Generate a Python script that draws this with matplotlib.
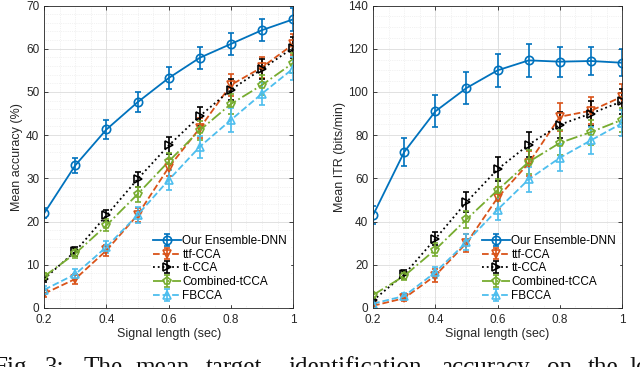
import numpy as np
import matplotlib.pyplot as plt
from matplotlib.ticker import MultipleLocator

plt.rcParams['font.family'] = ['Liberation Sans', 'DejaVu Sans']

t = [0.2, 0.3, 0.4, 0.5, 0.6, 0.7, 0.8, 0.9, 1.0]
names = ['Our Ensemble-DNN', 'ttf-CCA', 'tt-CCA', 'Combined-tCCA', 'FBCCA']
xtick_labels = ['0.2', '0.4', '0.6', '0.8', '1']

# mean accuracy (%)
acc_dnn = [21.9, 33.0, 41.3, 47.6, 53.2, 57.9, 61.1, 64.3, 66.8]
acc_ttf = [3.3, 6.7, 13.3, 21.5, 32.5, 41.6, 51.6, 55.7, 61.0]
acc_tt = [6.7, 13.1, 21.4, 29.8, 37.6, 44.4, 50.5, 55.3, 60.2]
acc_comb = [7.3, 12.6, 19.1, 26.3, 33.9, 41.1, 47.2, 51.6, 56.7]
acc_fb = [4.2, 7.8, 14.1, 21.5, 29.6, 37.3, 43.5, 49.6, 55.4]
acc_err_dnn = [1.2, 1.7, 2.1, 2.3, 2.6, 2.6, 2.6, 2.5, 2.6]
acc_err_ttf = [0.8, 1.1, 1.2, 1.6, 2.0, 2.3, 2.5, 2.4, 2.4]
acc_err_tt = [0.8, 1.1, 1.3, 1.7, 2.0, 2.2, 2.4, 2.4, 2.4]
acc_err_comb = [0.8, 1.1, 1.4, 1.7, 2.0, 2.2, 2.4, 2.4, 2.4]
acc_err_fb = [0.9, 1.2, 1.4, 1.8, 2.3, 2.6, 2.8, 2.7, 2.7]

# mean ITR (bits/min)
itr_dnn = [43.0, 72.2, 91.0, 101.8, 110.0, 114.6, 114.0, 114.3, 113.5]
itr_ttf = [1.0, 4.5, 15.0, 30.0, 51.0, 67.0, 88.5, 91.3, 97.8]
itr_tt = [3.5, 15.5, 32.0, 49.0, 64.2, 75.6, 84.8, 90.0, 95.6]
itr_comb = [6.0, 14.8, 27.0, 41.0, 54.5, 67.6, 76.4, 81.4, 87.1]
itr_fb = [2.0, 5.5, 16.5, 30.5, 45.5, 59.5, 69.5, 77.6, 85.5]
itr_err_dnn = [4.0, 6.3, 7.4, 7.5, 7.6, 7.5, 7.0, 6.7, 6.3]
itr_err_ttf = [0.8, 1.5, 2.8, 4.0, 5.0, 5.8, 6.5, 6.3, 6.0]
itr_err_tt = [1.0, 2.0, 3.0, 4.5, 5.5, 5.8, 6.0, 5.8, 5.6]
itr_err_comb = [1.0, 2.0, 3.0, 4.0, 5.0, 5.5, 5.8, 5.8, 5.6]
itr_err_fb = [1.0, 1.5, 2.5, 3.8, 5.0, 5.8, 6.3, 6.3, 6.0]

colors = ['#0072BD', '#D95319', '#000000', '#77AC30', '#4DBEEE']
styles = ['-', '--', ':', '-.', '--']
markers = ['o', 'v', '>', 'p', '^']

fig = plt.figure(figsize=(6.4, 3.67), dpi=100)
ax1 = fig.add_axes([0.069, 0.161, 0.389, 0.824])
ax2 = fig.add_axes([0.583, 0.161, 0.389, 0.824])

panels = [
    (ax1, [acc_dnn, acc_ttf, acc_tt, acc_comb, acc_fb],
     [acc_err_dnn, acc_err_ttf, acc_err_tt, acc_err_comb, acc_err_fb],
     70, 10, 2, 'Mean accuracy (%)'),
    (ax2, [itr_dnn, itr_ttf, itr_tt, itr_comb, itr_fb],
     [itr_err_dnn, itr_err_ttf, itr_err_tt, itr_err_comb, itr_err_fb],
     140, 20, 5, 'Mean ITR (bits/min)'),
]

for ax, ys, es, ymax, major, minor, ylab in panels:
    for i in range(len(names)):
        ax.errorbar(t, ys[i], yerr=es[i], color=colors[i], ls=styles[i], lw=1.3,
                    marker=markers[i], ms=6, mfc='none', mew=1.2,
                    capsize=2.5, elinewidth=1.2, label=names[i])
    ax.set_xlim(0.2, 1)
    ax.set_ylim(0, ymax)
    ax.set_xticks([0.2, 0.4, 0.6, 0.8, 1.0])
    ax.set_xticklabels(xtick_labels)
    ax.xaxis.set_minor_locator(MultipleLocator(0.05))
    ax.yaxis.set_major_locator(MultipleLocator(major))
    ax.yaxis.set_minor_locator(MultipleLocator(minor))
    ax.grid(True, which='major', color='#dcdcdc', lw=0.6)
    ax.grid(True, which='minor', color='#e6e6e6', lw=0.5, ls=':')
    ax.set_axisbelow(True)
    ax.tick_params(which='both', direction='in', labelsize=8.5, colors='#262626',
                   length=3, width=0.6, top=True, right=True)
    ax.tick_params(axis='x', pad=4.5)
    ax.tick_params(which='minor', length=0)
    for s in ax.spines.values():
        s.set_color('#262626')
        s.set_linewidth(0.6)
    ax.set_xlabel('Signal length (sec)', fontsize=9, color='#262626', labelpad=1)
    ax.set_ylabel(ylab, fontsize=9, color='#262626', labelpad=2)
    leg = ax.legend(loc='lower right', bbox_to_anchor=(1.0, 0.0), fontsize=8.5,
                    frameon=True, fancybox=False, handlelength=2.4,
                    handletextpad=0.1, labelspacing=0.15, borderpad=0.2,
                    borderaxespad=0.3)
    leg.get_frame().set_facecolor('white')
    leg.get_frame().set_edgecolor('white')
    leg.get_frame().set_alpha(1)

# caption fragment, cut off by the bottom edge as in the source
words = ['Fig.', '3:', 'The', 'mean', 'target', 'identification', 'accuracy', 'on', 'the', 'left']
word_x = [-7, 45, 84, 135, 206, 288, 441, 547, 588, 629]
for w, x in zip(words, word_x):
    fig.text(x / 640, -7 / 367, w, family=['Liberation Serif', 'DejaVu Serif'],
             fontsize=18, color='#111111', ha='left', va='baseline')

plt.savefig('out.png', dpi=100)
plt.close()
